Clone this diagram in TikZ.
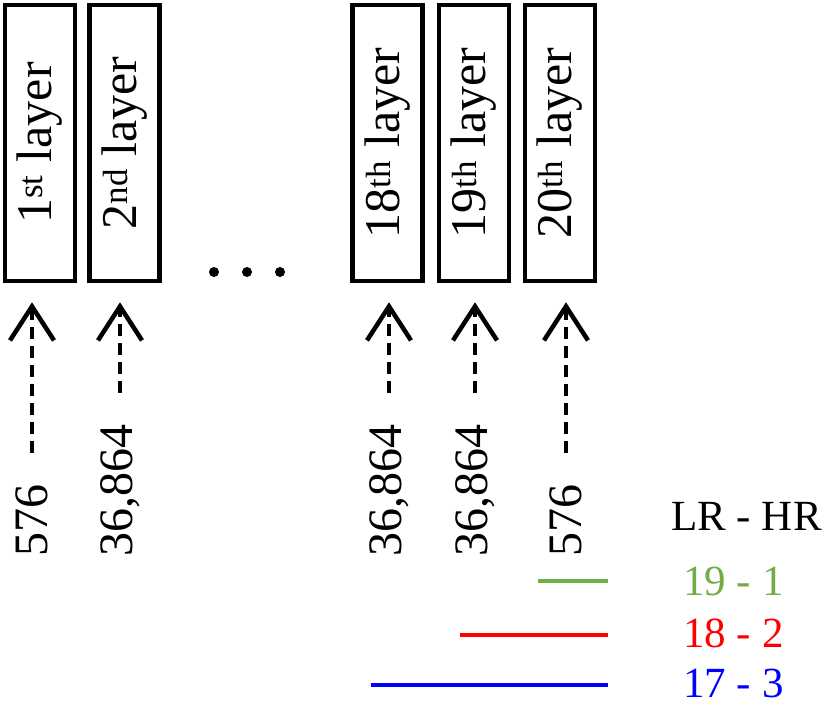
\documentclass[tikz,border=0pt]{standalone}
\usepackage{fontspec}
\setmainfont{Liberation Serif}
\usetikzlibrary{arrows.meta, positioning, calc}
\definecolor{lrGreen}{HTML}{70AD47}
\definecolor{lrRed}  {HTML}{FF0000}
\definecolor{lrBlue} {HTML}{0000FF}
\tikzset{
  layerbox/.style = {rectangle, draw=black, line width=4.5pt, rotate=90,
                     minimum width=276pt, minimum height=70pt, inner sep=0pt,
                     font=\fontsize{50}{52}\selectfont},
  sizelbl/.style  = {rotate=90, anchor=west, inner sep=0pt,
                     font=\fontsize{48}{50}\selectfont},
  feedarrow/.style= {-{Straight Barb[length=34pt, width=44pt]}, line width=4.5pt,
                     dash pattern=on 12pt off 7pt, shorten <=32pt, shorten >=19pt},
  legendtxt/.style= {anchor=base west, inner sep=0pt,
                     font=\fontsize{43}{45}\selectfont},
  pairbar/.style  = {line width=4.5pt},
}
\begin{document}
\begin{tikzpicture}[x=1pt, y=-1pt]
  \useasboundingbox (0,0) rectangle (827,705);

  % layers
  \node[layerbox] (l1)  at (40,143)    {1\textsuperscript{st} layer};
  \node[layerbox] (l2)  at (124.5,143) {2\textsuperscript{nd} layer};
  \node[layerbox] (l18) at (387.5,143) {18\textsuperscript{th} layer};
  \node[layerbox] (l19) at (474,143)   {19\textsuperscript{th} layer};
  \node[layerbox] (l20) at (560,143)   {20\textsuperscript{th} layer};
  \foreach \dx in {214,247,280}
    \fill (\dx,272) circle (5pt);

  % sizes fed to each layer
  \node[sizelbl] (s1)  at (32,557)  {576};
  \node[sizelbl] (s2)  at (120,557) {36,864};
  \node[sizelbl] (s18) at (389,557) {36,864};
  \node[sizelbl] (s19) at (475,557) {36,864};
  \node[sizelbl] (s20) at (566,557) {576};
  \foreach \s/\l in {s1/l1, s2/l2, s18/l18, s19/l19, s20/l20}
    \draw[feedarrow] (\s.east) -- (\s.east |- \l.west);

  % LR - HR pairs
  \node[legendtxt] (lgd) at (671,530) {LR - HR};
  \node[legendtxt, text=lrGreen] (p1) at (683,595) {19 - 1};
  \node[legendtxt, text=lrRed]   (p2) at (683,647) {18 - 2};
  \node[legendtxt, text=lrBlue]  (p3) at (683,697) {17 - 3};
  \coordinate (b1s) at (538,581);
  \coordinate (b2s) at (460,635);
  \coordinate (b3s) at (371,685);
  \draw[pairbar, lrGreen] (b1s) -- (608,581);
  \draw[pairbar, lrRed]   (b2s) -- (608,635);
  \draw[pairbar, lrBlue]  (b3s) -- (608,685);
\end{tikzpicture}
\end{document}
